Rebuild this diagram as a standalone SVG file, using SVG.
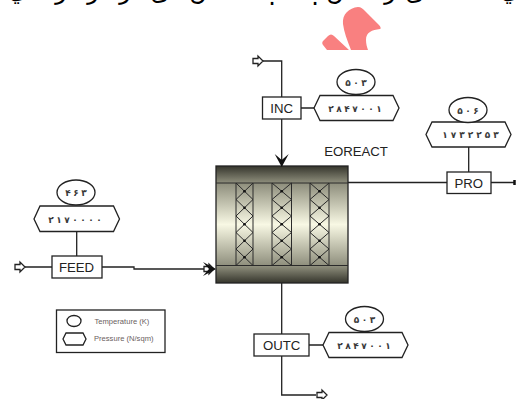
<svg xmlns="http://www.w3.org/2000/svg" width="516" height="399" viewBox="0 0 516 399">
<style>
.l{fill:none;stroke:#222;stroke-width:1.3}
.b{fill:#fff;stroke:#222;stroke-width:1.3}
.t{font-family:"Liberation Sans",Arial,sans-serif;font-size:13.2px;fill:#222;text-anchor:middle}
.d{font-family:"DejaVu Sans",sans-serif;font-size:9px;font-weight:bold;fill:#3a3a3a;text-anchor:middle}
.g{font-family:"DejaVu Sans",sans-serif;font-size:24px;fill:#000;text-anchor:middle}
.m{font-family:"Liberation Sans",Arial,sans-serif;font-size:7.6px;fill:#6a6060}
.x{fill:none;stroke:#2a2a2a;stroke-width:1}
.n{fill:#111}
</style>
<defs>
<linearGradient id="rg" x1="0" y1="0" x2="0" y2="1">
<stop offset="0" stop-color="#35352c"/>
<stop offset="0.14" stop-color="#8c8c7a"/>
<stop offset="0.5" stop-color="#f8f8e4"/>
<stop offset="0.86" stop-color="#8c8c7a"/>
<stop offset="1" stop-color="#35352c"/>
</linearGradient>
<path id="open" d="M0,-2.500H5V-5L10,0L5,5V2.500H0Z" fill="#fff" stroke="#222" stroke-width="1.300"/>
<path id="head" d="M-13,-7L0,0L-13,7L-7,0Z" fill="#111"/>
</defs>
<g id="banner">
<text class="g" x="18" y="-2">ي</text>
<text class="g" x="38" y="-2">ه</text>
<text class="g" x="61" y="-1">ر</text>
<text class="g" x="93" y="-1">ر</text>
<text class="g" x="125" y="-1">ر</text>
<text class="g" x="160" y="0">ی</text>
<text class="g" x="198" y="0">ن</text>
<text class="g" x="272" y="5">.</text>
<text class="g" x="315" y="5">.</text>
<text class="g" x="335" y="0">ن</text>
<text class="g" x="390" y="-1">ر</text>
<text class="g" x="415" y="0">ی</text>
<text class="g" x="510" y="-2">ي</text>
</g>
<g id="logo" fill="#f98080">
<path d="M343,24C342,14 349,8 358,7C361,7 363,9 365,11L379,25C381,27 381,29 380,29C372,30 366,32 366,40C366,44 367,47 368,50H351C347,40 344,32 343,24Z"/>
<path d="M323,41L328,36C330,34 332,34 334,36L349,50H327L323,45C322,44 322,42 323,41Z"/>
</g>
<g id="connectors">
<path class="l" d="M263,61H281.700V97M281.700,119V166"/>
<path class="l" d="M301,108H314M76.700,232V256M468.700,147V172M309,345H323"/>
<path class="l" d="M25,267H52M102,267H134V269H206"/>
<path class="l" d="M348,182.500H447M491,182.500H514"/>
<path class="l" d="M281.700,283V334M281.700,356V395H316"/>
<use href="#open" x="253" y="61"/>
<use href="#open" x="15" y="267"/>
<use href="#open" x="317" y="395"/>
<use href="#open" x="204" y="269"/>
<path d="M514.500,180V185" stroke="#111" stroke-width="2.500"/>
</g>
<g id="EOREACT">
<rect x="216" y="166" width="132" height="117" fill="url(#rg)" stroke="#222" stroke-width="1.300"/>
<path class="x" d="M216,183H348M216,265.500H348"/>
<path class="x" d="M236,183V265.500M253,183V265.500M272,183V265.500M291.500,183V265.500M310,183V265.500M329,183V265.500"/>
<path class="x" d="M236,183L253,199.500L236,216L253,232.500L236,249L253,265.500M253,183L236,199.500L253,216L236,232.500L253,249L236,265.500"/>
<path class="x" d="M272,183L291.500,199.500L272,216L291.500,232.500L272,249L291.500,265.500M291.500,183L272,199.500L291.500,216L272,232.500L291.500,249L272,265.500"/>
<path class="x" d="M310,183L329,199.500L310,216L329,232.500L310,249L329,265.500M329,183L310,199.500L329,216L310,232.500L329,249L310,265.500"/>
<g class="n">
<circle cx="244.500" cy="191.200" r="1.300"/><circle cx="244.500" cy="207.700" r="1.300"/><circle cx="244.500" cy="224.200" r="1.300"/><circle cx="244.500" cy="240.700" r="1.300"/><circle cx="244.500" cy="257.200" r="1.300"/>
<circle cx="281.700" cy="191.200" r="1.300"/><circle cx="281.700" cy="207.700" r="1.300"/><circle cx="281.700" cy="224.200" r="1.300"/><circle cx="281.700" cy="240.700" r="1.300"/><circle cx="281.700" cy="257.200" r="1.300"/>
<circle cx="319.500" cy="191.200" r="1.300"/><circle cx="319.500" cy="207.700" r="1.300"/><circle cx="319.500" cy="224.200" r="1.300"/><circle cx="319.500" cy="240.700" r="1.300"/><circle cx="319.500" cy="257.200" r="1.300"/>
</g>
<use href="#head" transform="translate(216,269)"/>
<use href="#head" transform="translate(281.700,167) rotate(90)"/>
<text class="t" x="356" y="156">EOREACT</text>
</g>
<g id="INC">
<rect class="b" x="262.500" y="97" width="38.500" height="22"/>
<text class="t" x="281.700" y="112.800">INC</text>
<path class="b" d="M320,95.500H393L399,108L393,120.500H320L314,108Z"/>
<text class="d" x="331 339 347 355 363 371 379" y="111.500">۲۸۴۷۰۰۱</text>
<ellipse class="b" cx="356" cy="82" rx="19" ry="12.500"/>
<text class="d" x="348 356 364" y="85.500">۵۰۳</text>
</g>
<g id="FEED">
<rect class="b" x="52" y="256" width="50" height="22"/>
<text class="t" x="76.500" y="271.800">FEED</text>
<path class="b" d="M40,206H113.500L119.500,219L113.500,231.500H40L34,219Z"/>
<text class="d" x="51 59 67 75 83 91 99" y="222.500">۲۱۷۰۰۰۰</text>
<ellipse class="b" cx="76" cy="192.500" rx="19" ry="12.500"/>
<text class="d" x="68 76 84" y="196">۴۶۳</text>
</g>
<g id="PRO">
<rect class="b" x="447" y="172" width="44" height="21.500"/>
<text class="t" x="468.700" y="187.800">PRO</text>
<path class="b" d="M432,122H505L511,134.500L505,147H432L426,134.500Z"/>
<text class="d" x="445 453.500 462 470.500 479 487.500 496" y="138">۱۷۳۲۲۵۳</text>
<ellipse class="b" cx="468" cy="110" rx="19" ry="12.500"/>
<text class="d" x="460 468 476" y="113.500">۵۰۶</text>
</g>
<g id="OUTC">
<rect class="b" x="254" y="334" width="55" height="22"/>
<text class="t" x="281.700" y="349.800">OUTC</text>
<path class="b" d="M329,332.500H402L408,345L402,357.500H329L323,345Z"/>
<text class="d" x="340 348 356 364 372 380 388" y="348.500">۲۸۴۷۰۰۱</text>
<ellipse class="b" cx="364.500" cy="319" rx="19" ry="12.500"/>
<text class="d" x="356.500 364.500 372.500" y="322.500">۵۰۳</text>
</g>
<g id="legend">
<rect class="b" x="56.500" y="310" width="108.500" height="42.500"/>
<ellipse class="b" cx="74" cy="321" rx="7" ry="5.500"/>
<path class="b" d="M66,333H83L86,339L83,345H66L63,339Z"/>
<text class="m" x="94.500" y="323.500">Temperature (K)</text>
<text class="m" x="94" y="341">Pressure (N/sqm)</text>
</g>
</svg>
